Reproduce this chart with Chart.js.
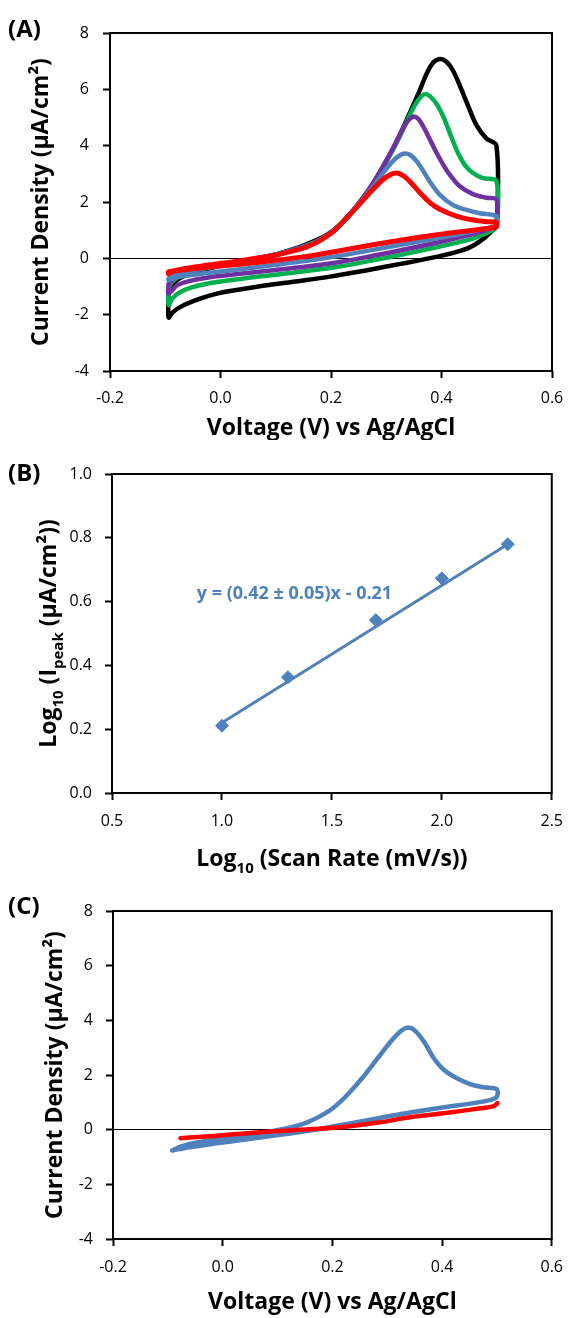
<!DOCTYPE html>
<html>
<head>
<meta charset="utf-8">
<script src="https://cdn.jsdelivr.net/npm/chart.js@4.4.0/dist/chart.umd.min.js"></script>
<style>
  body { margin: 0; background: #fff; }
  #page { position: relative; width: 575px; height: 1318px; }
  canvas { position: absolute; left: 0; }
  .tag { position: absolute; left: 8px; font: bold 24px "Open Sans", sans-serif; line-height: 28px; }
</style>
</head>
<body>
<div id="page">
  <canvas id="chartA" width="575" height="440" style="top:0"></canvas>
  <canvas id="chartB" width="575" height="440" style="top:440px"></canvas>
  <canvas id="chartC" width="575" height="438" style="top:880px"></canvas>
  <div class="tag" style="top:14px">(A)</div>
  <div class="tag" style="top:458px">(B)</div>
  <div class="tag" style="top:891px">(C)</div>
</div>
<script>
// (A) cyclic voltammograms at 5 scan rates: voltage (V) and current density (uA/cm2)
const aBlackV = [-0.094,-0.089,-0.078,-0.060,-0.030,0.010,0.050,0.096,0.126,0.156,0.180,0.204,0.228,0.252,0.276,0.300,0.325,0.343,0.361,0.373,0.385,0.397,0.409,0.421,0.433,0.448,0.463,0.481,0.4995,0.4995,0.490,0.476,0.457,0.437,0.397,0.331,0.265,0.198,0.132,0.066,0.000,-0.047,-0.075,-0.088,-0.094,-0.094];
const aBlackI = [-1.25,-0.98,-0.76,-0.58,-0.40,-0.22,-0.06,0.12,0.29,0.50,0.70,0.99,1.44,2.00,2.66,3.45,4.40,5.18,5.98,6.55,6.95,7.08,6.98,6.66,6.14,5.42,4.74,4.26,4.00,1.15,0.95,0.70,0.45,0.28,0.08,-0.18,-0.42,-0.65,-0.83,-1.01,-1.22,-1.50,-1.75,-1.95,-2.10,-1.25];

const aGreenV = [-0.094,-0.088,-0.076,-0.058,-0.030,0.010,0.050,0.096,0.126,0.156,0.180,0.204,0.228,0.252,0.276,0.300,0.320,0.337,0.352,0.362,0.370,0.380,0.392,0.404,0.416,0.428,0.442,0.457,0.475,0.4995,0.4995,0.490,0.476,0.457,0.427,0.397,0.337,0.276,0.216,0.156,0.096,0.035,-0.025,-0.055,-0.075,-0.087,-0.094,-0.094];
const aGreenI = [-1.05,-0.84,-0.66,-0.50,-0.36,-0.21,-0.06,0.11,0.27,0.46,0.67,0.97,1.42,1.98,2.62,3.42,4.15,4.85,5.45,5.72,5.83,5.74,5.45,5.00,4.40,3.82,3.32,3.03,2.85,2.74,1.12,0.98,0.85,0.70,0.55,0.42,0.17,-0.07,-0.29,-0.45,-0.59,-0.73,-0.90,-1.05,-1.22,-1.42,-1.66,-1.05];

const aPurpleV = [-0.094,-0.086,-0.072,-0.052,-0.025,0.010,0.050,0.096,0.126,0.156,0.180,0.204,0.228,0.252,0.276,0.298,0.316,0.330,0.340,0.349,0.358,0.367,0.379,0.391,0.403,0.415,0.433,0.457,0.481,0.4995,0.4995,0.490,0.476,0.457,0.427,0.397,0.337,0.276,0.216,0.156,0.096,0.035,-0.025,-0.055,-0.078,-0.094,-0.094];
const aPurpleI = [-0.90,-0.72,-0.58,-0.46,-0.34,-0.21,-0.06,0.11,0.27,0.45,0.66,0.97,1.43,2.00,2.66,3.40,4.05,4.60,4.90,5.03,4.95,4.68,4.22,3.75,3.33,2.97,2.56,2.28,2.15,2.09,1.15,1.06,0.97,0.86,0.72,0.58,0.33,0.09,-0.13,-0.29,-0.42,-0.55,-0.69,-0.80,-0.95,-1.25,-0.90];

const aBlueV = [-0.094,-0.082,-0.060,-0.030,0.010,0.050,0.096,0.126,0.156,0.180,0.204,0.228,0.252,0.276,0.296,0.312,0.324,0.334,0.344,0.355,0.367,0.379,0.397,0.421,0.445,0.469,0.4995,0.4995,0.488,0.457,0.427,0.397,0.337,0.276,0.216,0.156,0.096,0.035,-0.025,-0.055,-0.080,-0.094,-0.094];
const aBlueI = [-0.72,-0.58,-0.46,-0.35,-0.21,-0.06,0.11,0.26,0.44,0.65,0.96,1.42,1.97,2.55,3.08,3.45,3.65,3.72,3.66,3.45,3.10,2.72,2.25,1.89,1.72,1.60,1.50,1.18,1.10,0.96,0.84,0.73,0.52,0.30,0.09,-0.09,-0.24,-0.39,-0.52,-0.60,-0.68,-0.77,-0.72];

const aRedV = [-0.094,-0.085,-0.060,-0.030,0.010,0.050,0.096,0.126,0.156,0.180,0.204,0.228,0.252,0.276,0.294,0.308,0.319,0.331,0.346,0.361,0.379,0.397,0.427,0.457,0.481,0.4995,0.4995,0.481,0.457,0.427,0.397,0.337,0.276,0.216,0.156,0.096,0.035,-0.025,-0.055,-0.080,-0.094,-0.094];
const aRedI = [-0.55,-0.45,-0.35,-0.26,-0.16,-0.04,0.10,0.24,0.41,0.63,0.95,1.42,1.93,2.45,2.80,2.98,3.03,2.93,2.66,2.33,1.98,1.74,1.50,1.36,1.30,1.27,1.12,1.06,1.00,0.93,0.85,0.68,0.48,0.27,0.07,-0.08,-0.21,-0.32,-0.38,-0.44,-0.48,-0.55];

// (B) log peak current vs log scan rate, plus the fitted line
const bRateLog = [1.0, 1.3, 1.7, 2.0, 2.3];
const bPeakLog = [0.211, 0.363, 0.542, 0.673, 0.780];
const bFitX = [1.0, 2.3];
const bFitY = [0.22, 0.78];
const bEquation = 'y = (0.42 ± 0.05)x - 0.21';

// (C) one scan rate (blue) and the blank (red)
const cBlueV = [-0.092,-0.074,-0.044,0.015,0.075,0.117,0.153,0.182,0.206,0.230,0.254,0.284,0.308,0.326,0.338,0.349,0.367,0.385,0.403,0.427,0.451,0.475,0.500,0.500,0.490,0.463,0.403,0.344,0.284,0.224,0.165,0.105,0.045,-0.015,-0.060,-0.092];
const cBlueI = [-0.76,-0.60,-0.46,-0.28,-0.11,0.05,0.26,0.54,0.87,1.33,1.88,2.65,3.26,3.63,3.74,3.65,3.22,2.61,2.19,1.88,1.67,1.55,1.48,1.21,1.10,0.99,0.82,0.64,0.42,0.20,-0.01,-0.19,-0.35,-0.51,-0.64,-0.76];
const cRedV = [-0.077,-0.044,-0.015,0.045,0.105,0.165,0.224,0.284,0.344,0.403,0.463,0.493,0.501];
const cRedI = [-0.31,-0.27,-0.23,-0.13,-0.05,0.02,0.11,0.26,0.46,0.60,0.76,0.85,0.97];

const voltTicks = { min: -0.2, max: 0.6, step: 0.2 };
const currTicks = { min: -4, max: 8, step: 2 };

const FONT = '"Open Sans", sans-serif';
const BLUE = '#4F81BD';
const TITLE = { size: 23, weight: 'bold', lineHeight: 1 };
Chart.defaults.font.family = FONT;
Chart.defaults.color = '#000';

const toXY = (xs, ys) => xs.map((x, i) => ({ x: x, y: ys[i] }));
const fmt1 = v => (Math.abs(v) < 1e-9 ? 0 : v).toFixed(1);

// frame round the plot area
const boxPlugin = {
  id: 'box',
  beforeDatasetsDraw(chart) {
    const { ctx, chartArea: a } = chart;
    ctx.save();
    ctx.strokeStyle = '#000';
    ctx.lineWidth = 2;
    ctx.strokeRect(a.left, a.top, a.right - a.left, a.bottom - a.top);
    ctx.restore();
  }
};

function curve(xs, ys, color, width) {
  return {
    data: toXY(xs, ys),
    showLine: true,
    borderColor: color,
    borderWidth: width,
    pointRadius: 0,
    tension: 0.3,
    borderCapStyle: 'round',
    borderJoinStyle: 'round'
  };
}

function cvChart(id, datasets, lay) {
  return new Chart(document.getElementById(id), {
    type: 'scatter',
    data: { datasets: datasets },
    plugins: [boxPlugin],
    options: {
      responsive: false,
      animation: false,
      layout: { padding: { left: 0, right: lay.right, top: lay.top, bottom: 0 } },
      plugins: { legend: { display: false }, tooltip: { enabled: false } },
      scales: {
        x: {
          type: 'linear',
          min: voltTicks.min, max: voltTicks.max,
          afterFit: s => { s.height = lay.xh; },
          border: { display: false },
          grid: { drawOnChartArea: false, tickLength: 7, tickColor: '#000', tickWidth: 2 },
          ticks: { stepSize: voltTicks.step, padding: lay.xpad, font: { size: 16 }, callback: fmt1 },
          title: { display: true, text: 'Voltage (V) vs Ag/AgCl', font: TITLE, padding: { top: 0, bottom: lay.xtp } }
        },
        y: {
          min: currTicks.min, max: currTicks.max,
          afterFit: s => { s.width = lay.yw; },
          border: { display: false },
          grid: {
            color: c => (c.tick && c.tick.value === 0 ? '#000' : 'rgba(0,0,0,0)'),
            lineWidth: 1, tickLength: 7, tickColor: '#000', tickWidth: 2
          },
          ticks: { stepSize: currTicks.step, padding: lay.ypad, font: { size: 16 } },
          title: { display: true, text: 'Current Density (µA/cm²)', font: TITLE, padding: { top: lay.ytp, bottom: 0 } }
        }
      }
    }
  });
}

// text with subscripts, centred on (cx, cy)
function drawRich(ctx, parts, cx, cy, angle, size) {
  const fontFor = p => 'bold ' + (p.sub ? Math.round(size * 0.65) : size) + 'px ' + FONT;
  let total = 0;
  parts.forEach(p => { ctx.font = fontFor(p); p.w = ctx.measureText(p.t).width; total += p.w; });
  ctx.save();
  ctx.translate(cx, cy);
  ctx.rotate(angle);
  ctx.fillStyle = '#000';
  ctx.textBaseline = 'alphabetic';
  let x = -total / 2;
  parts.forEach(p => {
    ctx.font = fontFor(p);
    ctx.fillText(p.t, x, size * 0.36 + (p.sub ? size * 0.28 : 0));
    x += p.w;
  });
  ctx.restore();
}

const eqAt = { x: 1.33, y: 0.624 };
const bText = {
  id: 'bText',
  afterDraw(chart) {
    const { ctx, chartArea: a, scales } = chart;
    drawRich(ctx, [{ t: 'Log' }, { t: '10', sub: true }, { t: ' (Scan Rate (mV/s))' }], (a.left + a.right) / 2, 418, 0, TITLE.size);
    drawRich(ctx, [{ t: 'Log' }, { t: '10', sub: true }, { t: ' (I' }, { t: 'peak', sub: true }, { t: ' (µA/cm²))' }], 48, (a.top + a.bottom) / 2, -Math.PI / 2, TITLE.size);
    ctx.save();
    ctx.font = 'bold 18px ' + FONT;
    ctx.fillStyle = BLUE;
    ctx.textAlign = 'center';
    ctx.textBaseline = 'middle';
    ctx.fillText(bEquation, scales.x.getPixelForValue(eqAt.x), scales.y.getPixelForValue(eqAt.y));
    ctx.restore();
  }
};

// red listed first so it is drawn on top
cvChart('chartA', [
  curve(aRedV, aRedI, '#FF0000', 5),
  curve(aBlueV, aBlueI, BLUE, 4.5),
  curve(aPurpleV, aPurpleI, '#7030A0', 4.5),
  curve(aGreenV, aGreenI, '#00B050', 4.5),
  curve(aBlackV, aBlackI, '#000000', 4.5)
], { right: 23, top: 33, xh: 69, yw: 110, xpad: 11, ypad: 14, xtp: 0, ytp: 30 });

new Chart(document.getElementById('chartB'), {
  type: 'scatter',
  data: {
    datasets: [
      { data: toXY(bRateLog, bPeakLog), pointStyle: 'rectRot', pointRadius: 6.5, backgroundColor: BLUE, borderColor: BLUE, borderWidth: 1, showLine: false },
      { data: toXY(bFitX, bFitY), showLine: true, borderColor: BLUE, borderWidth: 3, pointRadius: 0 }
    ]
  },
  plugins: [boxPlugin, bText],
  options: {
    responsive: false,
    animation: false,
    layout: { padding: { left: 0, right: 15, top: 34, bottom: 0 } },
    plugins: { legend: { display: false }, tooltip: { enabled: false } },
    scales: {
      x: {
        type: 'linear', min: 0.5, max: 2.5,
        afterFit: s => { s.height = 87; },
        border: { display: false },
        grid: { drawOnChartArea: false, tickLength: 7, tickColor: '#000', tickWidth: 2 },
        ticks: { stepSize: 0.5, padding: 12, font: { size: 16 }, callback: fmt1 }
      },
      y: {
        min: 0, max: 1,
        afterFit: s => { s.width = 112; },
        border: { display: false },
        grid: { drawOnChartArea: false, tickLength: 7, tickColor: '#000', tickWidth: 2 },
        ticks: { stepSize: 0.2, padding: 13, font: { size: 16 }, callback: fmt1 }
      }
    }
  }
});

cvChart('chartC', [
  curve(cRedV, cRedI, '#FF0000', 4.5),
  curve(cBlueV, cBlueI, BLUE, 4.5)
], { right: 15, top: 31, xh: 79, yw: 113, xpad: 12, ypad: 13, xtp: 4, ytp: 44 });
</script>
</body>
</html>
